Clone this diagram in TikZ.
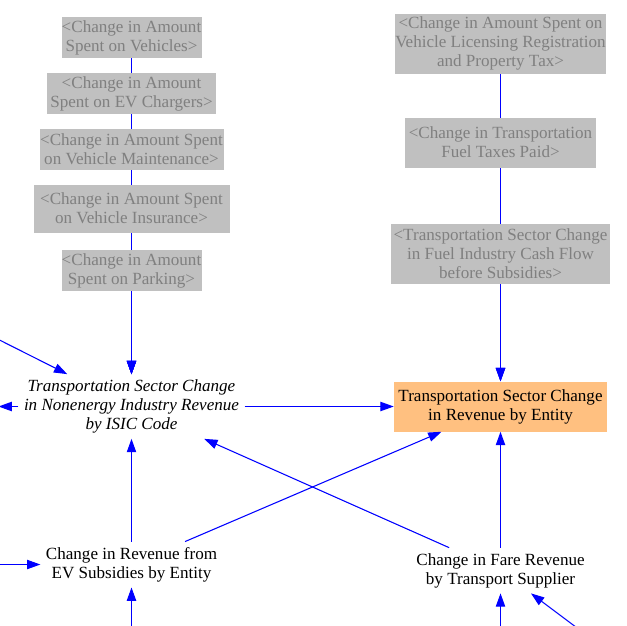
\documentclass[tikz,border=0pt]{standalone}
\usepackage{fontspec}
\setmainfont{Liberation Serif}
\usetikzlibrary{arrows.meta}
\pgfdeclarelayer{background}
\pgfsetlayers{background,main}
\definecolor{ghostfill}{RGB}{192,192,192}
\definecolor{ghosttext}{RGB}{128,128,128}
\definecolor{outfill}{RGB}{255,192,128}
\definecolor{linkblue}{RGB}{0,0,255}

\begin{document}
\begin{tikzpicture}[x=0.75pt, y=-0.75pt,
   dims/.style 2 args={minimum width=#1*0.75pt, minimum height=#2*0.75pt},
   ghost/.style={fill=ghostfill, text=ghosttext, inner sep=0pt, align=center,
      font=\fontsize{12.8}{14.25}\selectfont},
   var/.style={inner sep=4pt, align=center, font=\fontsize{12.8}{14.25}\selectfont},
   link/.style={color=linkblue, line width=0.8pt, -{Triangle[length=10pt,width=7pt]}}]

   \useasboundingbox (0,0) rectangle (627,625);

   \begin{scope}[shift={(0.5,0.5)}]
   \node[ghost, dims={140}{41}] (veh) at (131,37) {<Change in Amount\\Spent on Vehicles>};
   \node[ghost, dims={169}{41}] (chg) at (131,93) {<Change in Amount\\Spent on EV Chargers>};
   \node[ghost, dims={184}{41}] (mnt) at (131,149) {<Change in Amount Spent\\on Vehicle Maintenance>};
   \node[ghost, dims={196}{48}] (ins) at (131,208) {<Change in Amount Spent\\on Vehicle Insurance>};
   \node[ghost, dims={140}{41}] (prk) at (131,270) {<Change in Amount\\Spent on Parking>};

   \node[ghost, dims={209}{60}] (lic) at (500,43) {<Change in Amount Spent on\\Vehicle Licensing Registration\\and Property Tax>};
   \node[ghost, dims={191}{50}] (tax) at (500,142) {<Change in Transportation\\Fuel Taxes Paid>};
   \node[ghost, dims={219}{60}] (fuel) at (500,253) {<Transportation Sector Change\\in Fuel Industry Cash Flow\\before Subsidies>};

   \node[var, font=\fontsize{12.8}{14.25}\selectfont\itshape] (rev) at (131,406) {Transportation Sector Change\\in Nonenergy Industry Revenue\\by ISIC Code};
   \node[var, fill=outfill, inner sep=0pt, dims={213}{50}] (ent) at (500,406) {Transportation Sector Change\\in Revenue by Entity};
   \node[var] (ev) at (131,564) {Change in Revenue from\\EV Subsidies by Entity};
   \node[var] (fare) at (500,570) {Change in Fare Revenue\\by Transport Supplier};

   \coordinate (inUL) at (-2,339);
   \coordinate (outL) at (-2,406);
   \coordinate (inEV) at (-2,564);
   \coordinate (belowEV) at (131,627);
   \coordinate (belowFare) at (500,627);
   \coordinate (rightFare) at (576,627);

   \begin{pgfonlayer}{background}
      \foreach \src in {veh,chg,mnt,ins,prk}
         \draw[link] (\src) -- (rev);
      \foreach \src in {lic,tax,fuel}
         \draw[link] (\src) -- (ent);
   \end{pgfonlayer}

   \draw[link] (rev) -- (ent);
   \draw[link] (ev) -- (ent);
   \draw[link] (ev) -- (rev);
   \draw[link] (fare) -- (ent);
   \draw[link] (fare) -- (rev);
   \draw[link] (inUL) -- (rev);
   \draw[link] (rev) -- (outL);
   \draw[link] (inEV) -- (ev);
   \draw[link] (belowEV) -- (ev);
   \draw[link] (belowFare) -- (fare);
   \draw[link] (rightFare) -- (fare);
   \end{scope}

\end{tikzpicture}
\end{document}
